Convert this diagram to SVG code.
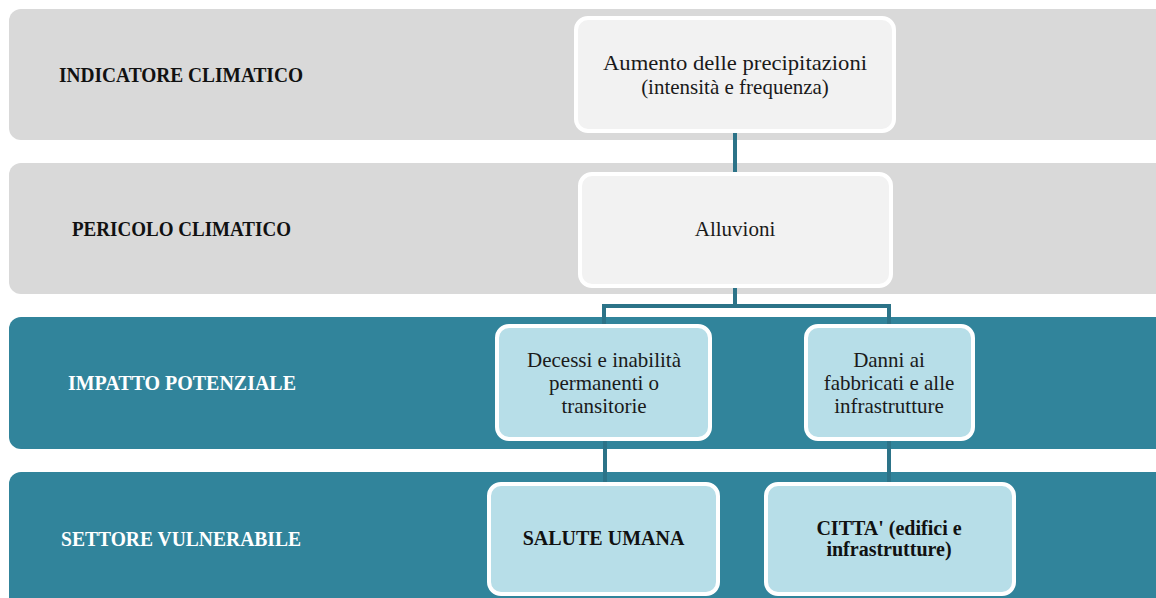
<svg xmlns="http://www.w3.org/2000/svg" width="1156" height="598" viewBox="0 0 1156 598">
<style>
.band-gray{fill:#D9D9D9;}
.band-teal{fill:#31849B;}
.node-gray{fill:#F2F2F2;stroke:#FFFFFF;stroke-width:4;}
.node-blue{fill:#B7DEE8;stroke:#FFFFFF;stroke-width:4;}
.conn{fill:none;stroke:#2C7388;stroke-width:4;}
.lbl{font-family:"Liberation Serif","Times New Roman",serif;font-weight:bold;font-size:20px;text-anchor:middle;}
.dark{fill:#111111;}
.light{fill:#FFFFFF;}
.txt{font-family:"Liberation Serif","Times New Roman",serif;font-size:21px;text-anchor:middle;fill:#1A1A1A;}
.btxt{font-family:"Liberation Serif","Times New Roman",serif;font-weight:bold;font-size:20px;text-anchor:middle;fill:#111111;}
</style>
<rect width="1156" height="598" fill="#FFFFFF"/>
<g id="bands">
<rect class="band-gray" x="9" y="9" width="1170" height="131" rx="12"/>
<rect class="band-gray" x="9" y="163" width="1170" height="131" rx="12"/>
<rect class="band-teal" x="9" y="317" width="1170" height="132" rx="12"/>
<rect class="band-teal" x="9" y="472" width="1170" height="145" rx="12"/>
<text class="lbl dark" x="181" y="82" textLength="244" lengthAdjust="spacingAndGlyphs">INDICATORE CLIMATICO</text>
<text class="lbl dark" x="181.5" y="236" textLength="219" lengthAdjust="spacingAndGlyphs">PERICOLO CLIMATICO</text>
<text class="lbl light" x="182" y="390" textLength="228" lengthAdjust="spacingAndGlyphs">IMPATTO POTENZIALE</text>
<text class="lbl light" x="181" y="546" textLength="240" lengthAdjust="spacingAndGlyphs">SETTORE VULNERABILE</text>
</g>
<g id="connectors">
<path class="conn" d="M735 131 V174"/>
<path class="conn" d="M735 286 V306"/>
<path class="conn" d="M604 326 V306 H889 V326"/>
<path class="conn" d="M605 439 V484"/>
<path class="conn" d="M889 439 V484"/>
</g>
<g id="node-aumento">
<rect class="node-gray" x="576" y="18" width="318" height="113" rx="12"/>
<text class="txt" x="735" y="70" textLength="264" lengthAdjust="spacingAndGlyphs">Aumento delle precipitazioni</text>
<text class="txt" x="735" y="94">(intensità e frequenza)</text>
</g>
<g id="node-alluvioni">
<rect class="node-gray" x="580" y="174" width="311" height="112" rx="12"/>
<text class="txt" x="735" y="236">Alluvioni</text>
</g>
<g id="node-decessi">
<rect class="node-blue" x="497" y="326" width="213" height="113" rx="12"/>
<text class="txt" x="604" y="367">Decessi e inabilità</text>
<text class="txt" x="604" y="390">permanenti o</text>
<text class="txt" x="604" y="413">transitorie</text>
</g>
<g id="node-danni">
<rect class="node-blue" x="806" y="326" width="167" height="113" rx="12"/>
<text class="txt" x="889" y="367">Danni ai</text>
<text class="txt" x="889" y="390">fabbricati e alle</text>
<text class="txt" x="889" y="413">infrastrutture</text>
</g>
<g id="node-salute">
<rect class="node-blue" x="489" y="484" width="229" height="110" rx="12"/>
<text class="btxt" x="603.5" y="545">SALUTE UMANA</text>
</g>
<g id="node-citta">
<rect class="node-blue" x="766" y="484" width="248" height="110" rx="12"/>
<text class="btxt" x="889" y="535">CITTA' (edifici e</text>
<text class="btxt" x="889" y="556">infrastrutture)</text>
</g>
</svg>
